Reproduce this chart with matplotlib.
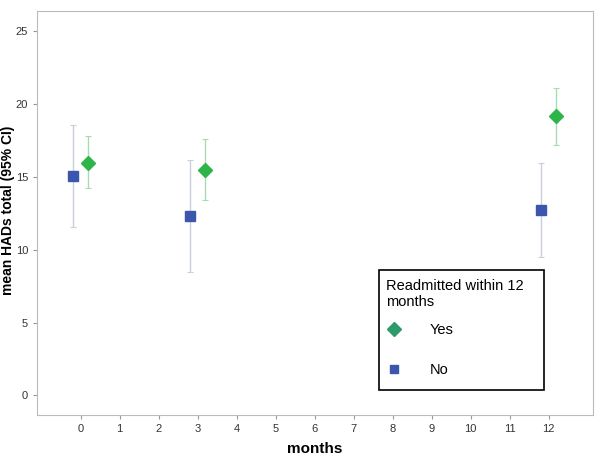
import matplotlib
matplotlib.use('Agg')
import numpy as np
import matplotlib.pyplot as plt
from matplotlib.patches import Rectangle

plt.rcParams['font.family'] = ['Liberation Sans', 'DejaVu Sans']

# data
months = [0, 3, 12]
yes_mean = [15.99, 15.49, 19.18]
yes_low = [14.23, 13.45, 17.23]
yes_high = [17.80, 17.60, 21.10]
no_mean = [15.07, 12.35, 12.74]
no_low = [11.60, 8.46, 9.49]
no_high = [18.56, 16.20, 15.95]
xticks = list(range(13))
yticks = [0, 5, 10, 15, 20, 25]

fig = plt.figure(figsize=(6, 4.61), dpi=100)
ax = fig.add_axes([37 / 600, 1 - 415 / 461, 556 / 600, 404 / 461])

m = np.array(months, dtype=float)
no_m = np.array(no_mean)
yes_m = np.array(yes_mean)
ax.errorbar(m - 0.2, no_m, yerr=[no_m - np.array(no_low), np.array(no_high) - no_m],
            fmt='none', ecolor='#c9cfdc', elinewidth=1, capsize=2, capthick=0.8)
ax.errorbar(m + 0.2, yes_m, yerr=[yes_m - np.array(yes_low), np.array(yes_high) - yes_m],
            fmt='none', ecolor='#a9dbb3', elinewidth=1, capsize=2, capthick=0.8)
ax.plot(m - 0.2, no_m, 's', color='#3c56ad', markersize=7, linestyle='none')
ax.plot(m + 0.2, yes_m, 'D', color='#2db54a', markersize=7, linestyle='none')

# legend (frame drawn separately so the padding can match)
ax.plot([], [], 'D', color='#2e9a6a', markersize=7, linestyle='none', label='Yes')
ax.plot([], [], 's', color='#3c56ad', markersize=6, linestyle='none', label='No')
handles, labels = ax.get_legend_handles_labels()
box_l, box_r, box_t, box_b = 379, 544, 270, 390
leg = ax.legend(handles, labels, title='Readmitted within 12\nmonths',
                loc='upper left', bbox_to_anchor=((box_l - 37) / 556, (415 - box_t - 2) / 404),
                frameon=False, fontsize=10.5, title_fontsize=10.5, alignment='left',
                labelspacing=1.75, handlelength=1.0, handletextpad=2.0,
                borderpad=0.5, borderaxespad=0)
leg._legend_box.sep = 10.0
fig.add_artist(Rectangle((box_l / 600, 1 - box_b / 461), (box_r - box_l) / 600,
                         (box_b - box_t) / 461, transform=fig.transFigure,
                         fill=False, edgecolor='black', linewidth=1.2))

ax.set_xlim(-1.12, 13.14)
ax.set_ylim(-1.34, 26.4)
ax.set_xticks(xticks)
ax.set_yticks(yticks)
ax.tick_params(labelsize=8, colors='#999999', labelcolor='#333333', length=3)
for s in ax.spines.values():
    s.set_color('#bbbbbb')

ax.set_xlabel('months', fontsize=11, fontweight='bold', labelpad=6)
ax.set_ylabel('mean HADs total (95% CI)', fontsize=10, fontweight='bold')
ax.yaxis.set_label_coords(-0.039, 0.507)

fig.savefig('out.png', dpi=100)
